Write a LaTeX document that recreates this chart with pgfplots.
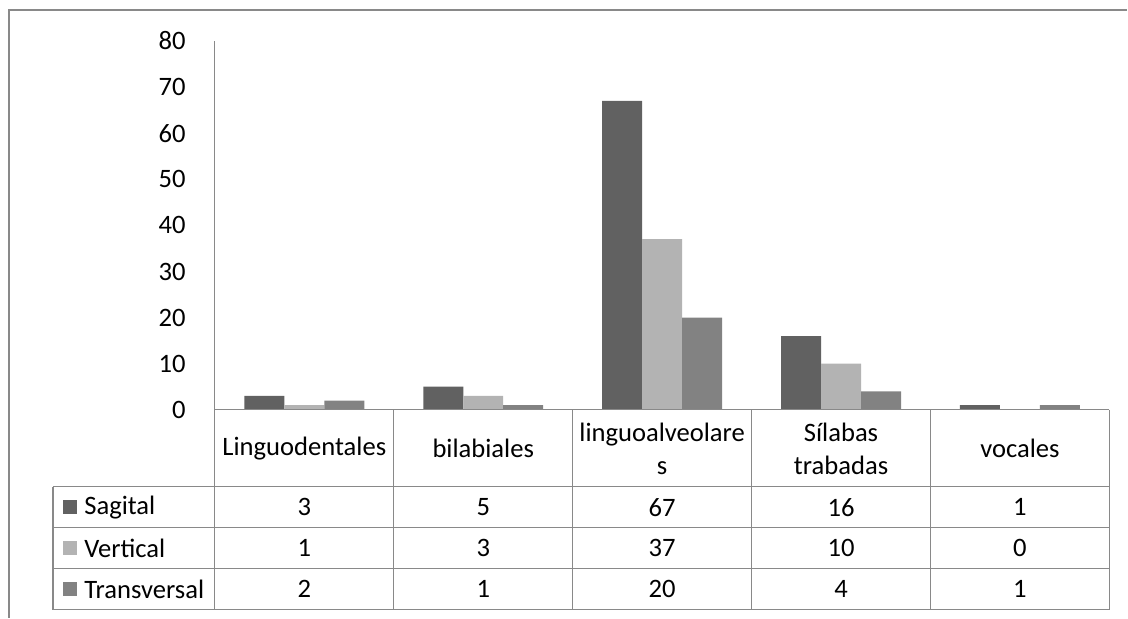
\documentclass[border=0pt]{standalone}
\usepackage{pgfplots}
\pgfplotsset{compat=1.18}
\usepackage{fontspec}
\setmainfont{Carlito}
\definecolor{cSag}{HTML}{616161}
\definecolor{cVer}{HTML}{B3B3B3}
\definecolor{cTra}{HTML}{828282}
\definecolor{lgray}{HTML}{898989}
\newcommand{\tf}{\fontsize{13.3}{16.5}\selectfont}
\begin{document}
\begin{tikzpicture}
\begin{scope}[x=0.5pt,y=-0.5pt]
\useasboundingbox (0,0) rectangle (1128,618);
\coordinate (O) at (215,410);
\end{scope}
\begin{axis}[
  at={(O)}, anchor=south west, scale only axis,
  width=447.5pt, height=184.5pt,
  xmin=0, xmax=5, ymin=0, ymax=80,
  enlargelimits=false, clip=false,
  ybar=0pt, bar width=20pt,
  xtick=\empty,
  ytick={0,10,...,80},
  axis y line=left, axis x line=bottom,
  axis line style={-, draw=lgray, line width=0.6pt},
  ytick style={draw=none},
  /pgf/number format/assume math mode=true,
  yticklabel style={font=\tf, xshift=-9pt},
]
\addplot[fill=cSag, draw=none] coordinates {(0.5,3) (1.5,5) (2.5,67) (3.5,16) (4.5,1)};
\addplot[fill=cVer, draw=none] coordinates {(0.5,1) (1.5,3) (2.5,37) (3.5,10) (4.5,0)};
\addplot[fill=cTra, draw=none] coordinates {(0.5,2) (1.5,1) (2.5,20) (3.5,4) (4.5,1)};
\end{axis}
\begin{scope}[x=0.5pt,y=-0.5pt]
% outer frame
\draw[lgray, line width=0.6pt] (9,618) -- (9,10) -- (1128,10);
% table lines
\draw[lgray, line width=0.6pt] (215,410) -- (1110,410);
\foreach \yy in {487,528,569,610} \draw[lgray, line width=0.6pt] (53,\yy) -- (1110,\yy);
\draw[lgray, line width=0.6pt] (53,487) -- (53,610);
\foreach \xx in {215,394,573,752,931,1110} \draw[lgray, line width=0.6pt] (\xx,410) -- (\xx,610);
% headers
\node[font=\tf] at (304.5,449) {Linguodentales};
\node[font=\tf] at (483.5,449) {bilabiales};
\node[font=\tf, align=center] at (662.5,449) {linguoalveolare\\s};
\node[font=\tf, align=center] at (841.5,449) {Sílabas\\trabadas};
\node[font=\tf] at (1020.5,449) {vocales};
% legend column
\fill[cSag] (63,500.5) rectangle (77,514.5);
\fill[cVer] (63,541.5) rectangle (77,555.5);
\fill[cTra] (63,582.5) rectangle (77,596.5);
\node[font=\tf, anchor=west, inner sep=0pt] at (84,507.5) {Sagital};
\node[font=\tf, anchor=west, inner sep=0pt] at (84,548.5) {Vertical};
\node[font=\tf, anchor=west, inner sep=0pt] at (84,589.5) {Transversal};
% values
\foreach \v [count=\i from 0] in {3,5,67,16,1} \node[font=\tf] at (304.5+179*\i,507.5) {\v};
\foreach \v [count=\i from 0] in {1,3,37,10,0} \node[font=\tf] at (304.5+179*\i,548.5) {\v};
\foreach \v [count=\i from 0] in {2,1,20,4,1} \node[font=\tf] at (304.5+179*\i,589.5) {\v};
\end{scope}
\end{tikzpicture}
\end{document}
